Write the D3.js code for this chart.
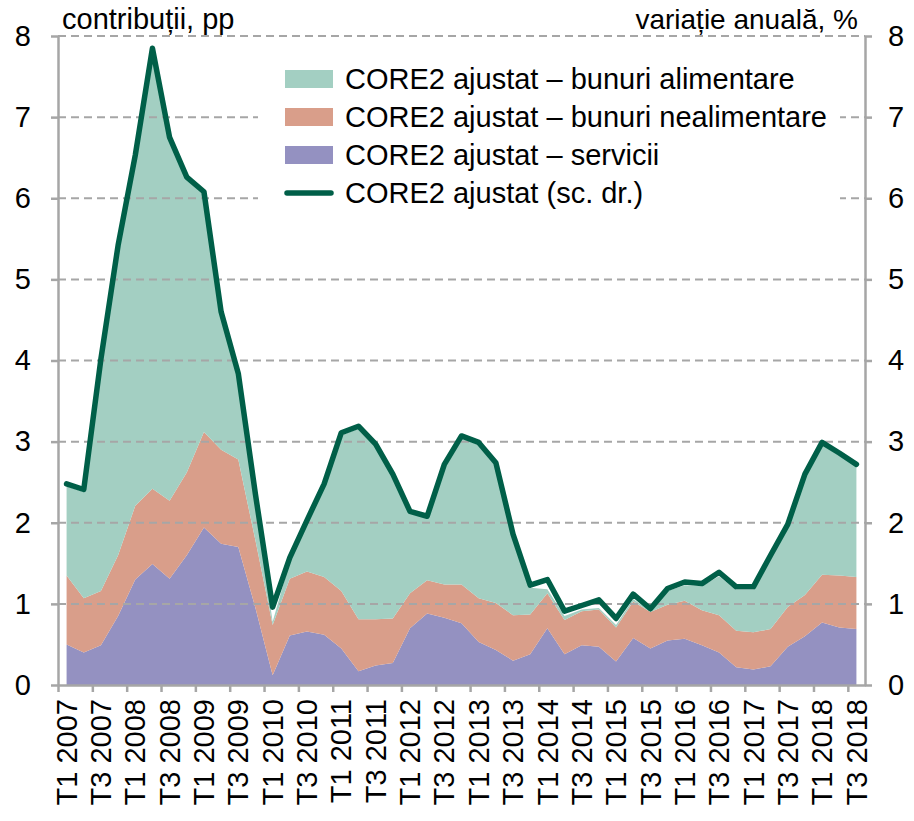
<!DOCTYPE html>
<html>
<head>
<meta charset="utf-8">
<script src="https://cdn.jsdelivr.net/npm/d3@7"></script>
<style>
  body { margin: 0; background: #fff; }
  text { font-family: "Liberation Sans", Arial, sans-serif; fill: #000; }
</style>
</head>
<body>
<svg id="chart" width="914" height="821"></svg>
<script>
// Quarter labels T1 2007 ... T3 2018
var years = [2007, 2008, 2009, 2010, 2011, 2012, 2013, 2014, 2015, 2016, 2017, 2018];
var quarterNames = ['T1', 'T2', 'T3', 'T4'];
var categories = [];
years.forEach(function(yr) {
  quarterNames.forEach(function(q) { categories.push(q + ' ' + yr); });
});
categories = categories.slice(0, 47);

// contributions, pp
var services = [0.50, 0.40, 0.49, 0.85, 1.30, 1.49, 1.31, 1.60, 1.94, 1.74, 1.70, 0.95,
  0.12, 0.61, 0.66, 0.62, 0.45, 0.17, 0.24, 0.27, 0.70, 0.88, 0.83, 0.76,
  0.53, 0.43, 0.30, 0.38, 0.70, 0.38, 0.49, 0.47, 0.29, 0.58, 0.45, 0.55,
  0.57, 0.49, 0.40, 0.22, 0.19, 0.23, 0.47, 0.60, 0.77, 0.71, 0.69];
var nonfood = [0.85, 0.67, 0.67, 0.75, 0.91, 0.93, 0.96, 1.02, 1.18, 1.16, 1.08, 0.83,
  0.62, 0.70, 0.74, 0.71, 0.71, 0.64, 0.57, 0.55, 0.43, 0.41, 0.41, 0.48,
  0.54, 0.58, 0.56, 0.49, 0.43, 0.42, 0.42, 0.46, 0.42, 0.45, 0.45, 0.44,
  0.47, 0.43, 0.46, 0.45, 0.46, 0.46, 0.49, 0.51, 0.59, 0.64, 0.64];
var food = [1.10, 1.31, 2.84, 3.80, 4.29, 5.41, 4.46, 3.62, 2.94, 1.68, 1.04, 0.52,
  0.04, 0.21, 0.60, 1.12, 1.92, 2.35, 2.13, 1.75, 0.99, 0.77, 1.45, 1.80,
  1.89, 1.70, 0.97, 0.33, 0.05, 0.05, 0.02, 0.02, 0.03, 0.03, 0.01, 0.17,
  0.19, 0.30, 0.48, 0.50, 0.52, 0.87, 0.99, 1.46, 1.60, 1.48, 1.37];
// annual change, % (right axis)
var core2 = [2.48, 2.41, 4.02, 5.42, 6.53, 7.85, 6.75, 6.26, 6.08, 4.60, 3.84, 2.35,
  0.96, 1.57, 2.03, 2.48, 3.11, 3.19, 2.97, 2.60, 2.14, 2.08, 2.72, 3.07,
  2.99, 2.74, 1.86, 1.23, 1.30, 0.91, 0.98, 1.05, 0.82, 1.12, 0.94, 1.19,
  1.27, 1.25, 1.39, 1.21, 1.21, 1.60, 1.98, 2.60, 2.99, 2.86, 2.72];

var yTicks = [0, 1, 2, 3, 4, 5, 6, 7, 8];
var seriesNames = ['CORE2 ajustat – bunuri alimentare', 'CORE2 ajustat – bunuri nealimentare',
  'CORE2 ajustat – servicii', 'CORE2 ajustat (sc. dr.)'];

var margin = {left: 58, right: 865, top: 36, bottom: 685};
var grey = '#a6a6a6';
var colors = {food: '#a3cfc2', nonfood: '#d99e8a', services: '#9491c1'};
var lineColor = '#005f48';

var svg = d3.select('#chart');

var x = d3.scalePoint().domain(categories).range([margin.left, margin.right]).padding(0.5);
var xEdge = d3.scaleLinear().domain([0, categories.length]).range([margin.left, margin.right]);
var y = d3.scaleLinear().domain([0, 8]).range([margin.bottom, margin.top]);
var y2 = d3.scaleLinear().domain([0, 8]).range([margin.bottom, margin.top]);

// stacked areas
var rows = categories.map(function(c, i) {
  return {cat: c, services: services[i], nonfood: nonfood[i], food: food[i]};
});
var stack = d3.stack().keys(['services', 'nonfood', 'food'])(rows);
var area = d3.area()
  .x(function(d) { return x(d.data.cat); })
  .y0(function(d) { return y(d[0]); })
  .y1(function(d) { return y(d[1]); });

svg.append('g').selectAll('path')
  .data(stack)
  .enter()
  .append('path')
  .attr('d', area)
  .attr('fill', function(d) { return colors[d.key]; });

// dashed gridlines
svg.append('g').selectAll('line')
  .data(yTicks.filter(function(d) { return d > 0; }))
  .enter()
  .append('line')
  .attr('x1', margin.left).attr('x2', margin.right)
  .attr('y1', function(d) { return y(d); })
  .attr('y2', function(d) { return y(d); })
  .attr('stroke', grey)
  .attr('stroke-width', 2)
  .attr('stroke-dasharray', '8,5');

// line on the right axis
var line = d3.line()
  .x(function(d, i) { return x(categories[i]); })
  .y(function(d) { return y2(d); });

svg.append('path')
  .datum(core2)
  .attr('d', line)
  .attr('fill', 'none')
  .attr('stroke', lineColor)
  .attr('stroke-width', 5.5)
  .attr('stroke-linejoin', 'round')
  .attr('stroke-linecap', 'round');

// axes
function styleAxis(g) {
  g.select('.domain').attr('stroke', grey).attr('stroke-width', 2.5);
  g.selectAll('.tick line').attr('stroke', grey).attr('stroke-width', 2.5);
  g.selectAll('.tick text').style('font-size', '29px');
}

svg.append('g')
  .attr('transform', 'translate(' + margin.left + ',0)')
  .call(d3.axisLeft(y).tickValues(yTicks).tickSizeInner(7).tickSizeOuter(0).tickPadding(20))
  .call(styleAxis);

svg.append('g')
  .attr('transform', 'translate(' + margin.right + ',0)')
  .call(d3.axisRight(y2).tickValues(yTicks).tickSizeInner(7).tickSizeOuter(0).tickPadding(16))
  .call(styleAxis);

svg.append('g')
  .attr('transform', 'translate(0,' + margin.bottom + ')')
  .call(d3.axisBottom(xEdge).tickValues(d3.range(0, categories.length, 2)).tickSizeInner(7).tickSizeOuter(0).tickFormat(''))
  .call(styleAxis);

// category labels, every second quarter
svg.append('g').selectAll('text')
  .data(categories.filter(function(d, i) { return i % 2 === 0; }))
  .enter()
  .append('text')
  .attr('transform', function(d) { return 'translate(' + x(d) + ',699) rotate(-90)'; })
  .attr('text-anchor', 'end')
  .attr('dy', '0.35em')
  .style('font-size', '29px')
  .text(function(d) { return d; });

// axis titles
svg.append('text').attr('x', 62).attr('y', 29).style('font-size', '29px').text('contribuții, pp');
svg.append('text').attr('x', 858).attr('y', 29).attr('text-anchor', 'end').style('font-size', '28px').text('variație anuală, %');

// legend
var legend = svg.append('g');
legend.append('rect').attr('x', 258).attr('y', 52).attr('width', 582).attr('height', 164).attr('fill', '#fff');
var legendFill = [colors.food, colors.nonfood, colors.services];
var rowY = [79, 117, 155, 193];
legendFill.forEach(function(c, i) {
  legend.append('rect').attr('x', 285).attr('y', rowY[i] - 9).attr('width', 48).attr('height', 18).attr('fill', c);
});
legend.append('line').attr('x1', 287).attr('x2', 331).attr('y1', rowY[3]).attr('y2', rowY[3])
  .attr('stroke', lineColor).attr('stroke-width', 5.5).attr('stroke-linecap', 'round');
legend.selectAll('text.lg')
  .data(seriesNames)
  .enter()
  .append('text')
  .attr('class', 'lg')
  .attr('x', 345)
  .attr('y', function(d, i) { return rowY[i]; })
  .attr('dy', '0.36em')
  .style('font-size', '29px')
  .text(function(d) { return d; });
</script>
</body>
</html>
